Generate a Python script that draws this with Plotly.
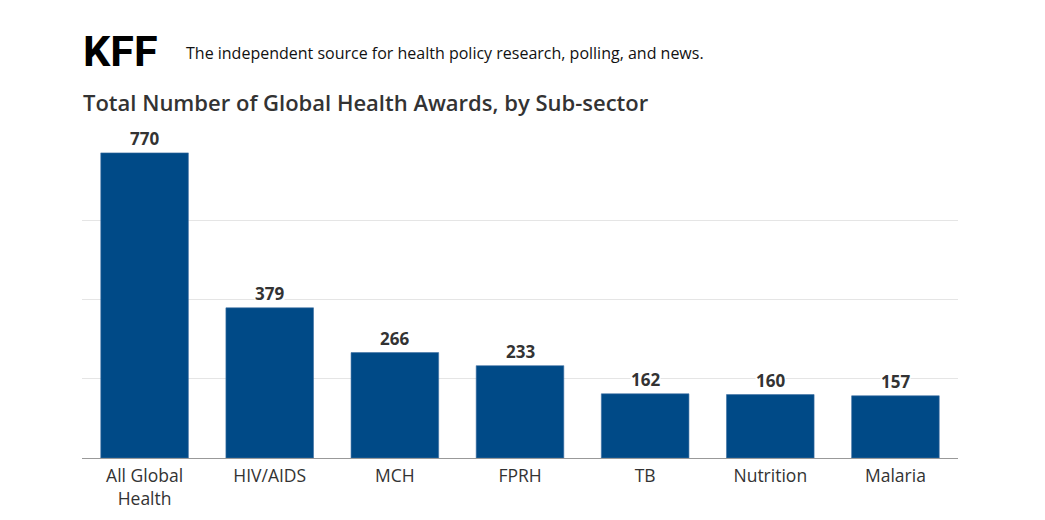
import plotly.graph_objects as go

categories = ["All Global<br>Health", "HIV/AIDS", "MCH", "FPRH", "TB", "Nutrition", "Malaria"]
values = [770, 379, 266, 233, 162, 160, 157]
grid_vals = [200, 400, 600]

BAR = "#004a87"
TXT = "#333333"
FONT = "Open Sans"

W, H = 1045, 520
ML, MR, MT, MB = 74, 95, 133, 70

fig = go.Figure()
fig.add_trace(go.Bar(
    x=categories, y=values,
    marker=dict(color=BAR, line=dict(color="#3d6fa3", width=0.6)),
    hoverinfo="skip",
))

for c, v in zip(categories, values):
    fig.add_annotation(
        x=c, y=v, xref="x", yref="y", text=f"<b>{v}</b>",
        showarrow=False, yanchor="bottom", yshift=2,
        font=dict(family=FONT, size=17, color=TXT),
        bgcolor="white", borderpad=0,
    )

# page offset of 8px (body margin) -> convert screen pixels to paper coords
def px_x(p):
    return (p - 8 - ML) / (W - ML - MR)

def px_y(p):
    return (H - MB - (p - 8)) / (H - MT - MB)

fig.add_annotation(
    x=px_x(81), y=px_y(51), xref="paper", yref="paper", text="<b>KFF</b>",
    showarrow=False, xanchor="left", yanchor="middle",
    font=dict(family="Roboto", size=43, color="#000000", weight=900),
)
fig.add_annotation(
    x=px_x(184), y=px_y(53), xref="paper", yref="paper",
    text="The independent source for health policy research, polling, and news.",
    showarrow=False, xanchor="left", yanchor="middle",
    font=dict(family=FONT, size=16, color="#111111"),
)
fig.add_annotation(
    x=px_x(81), y=px_y(102), xref="paper", yref="paper",
    text="Total Number of Global Health Awards, by Sub-sector",
    showarrow=False, xanchor="left", yanchor="middle",
    font=dict(family=FONT, size=22, color="#333333", weight=600),
)

fig.update_layout(
    width=W, height=H,
    margin=dict(l=ML, r=MR, t=MT, b=MB),
    paper_bgcolor="white", plot_bgcolor="white",
    bargap=0.3,
    showlegend=False,
    yaxis=dict(range=[0, 800], tickvals=grid_vals, showticklabels=False,
               showgrid=True, gridcolor="#e5e5e5", gridwidth=1,
               zeroline=False, showline=False, fixedrange=True),
    xaxis=dict(showline=True, linecolor="#999999", linewidth=1.2,
               tickfont=dict(family=FONT, size=17.5, color=TXT),
               ticks="", fixedrange=True, ticklabelstandoff=2),
)

fig.write_html("out.html", config={"displayModeBar": False})
